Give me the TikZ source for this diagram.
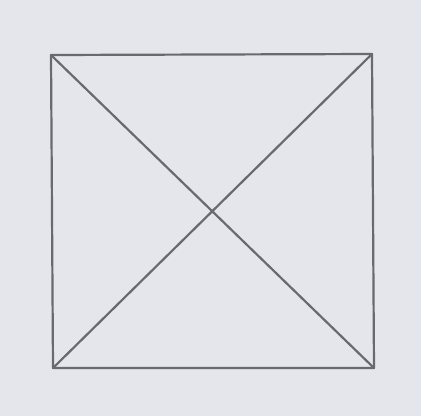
\documentclass[tikz,border=0pt]{standalone}
\usepackage{xcolor}
\usepackage{tikz}
\definecolor{paper}{RGB}{229,230,235}
\definecolor{pencil}{RGB}{105,105,112}

\begin{document}
\begin{tikzpicture}[x=1pt,y=-1pt,
  ln/.style={draw=pencil,line width=2.2pt,line cap=round,line join=round}]
 \fill[paper] (0,0) rectangle (421,416);
 \useasboundingbox (0,0) rectangle (421,416);
 \coordinate (tl) at (51,55); \coordinate (tr) at (372,54);
 \coordinate (br) at (374,368); \coordinate (bl) at (53,368);
 \draw[ln] (tl) -- (tr) -- (br) -- (bl) -- cycle;
 \draw[ln] (tl) -- (br); \draw[ln] (tr) -- (bl);
\end{tikzpicture}
\end{document}
